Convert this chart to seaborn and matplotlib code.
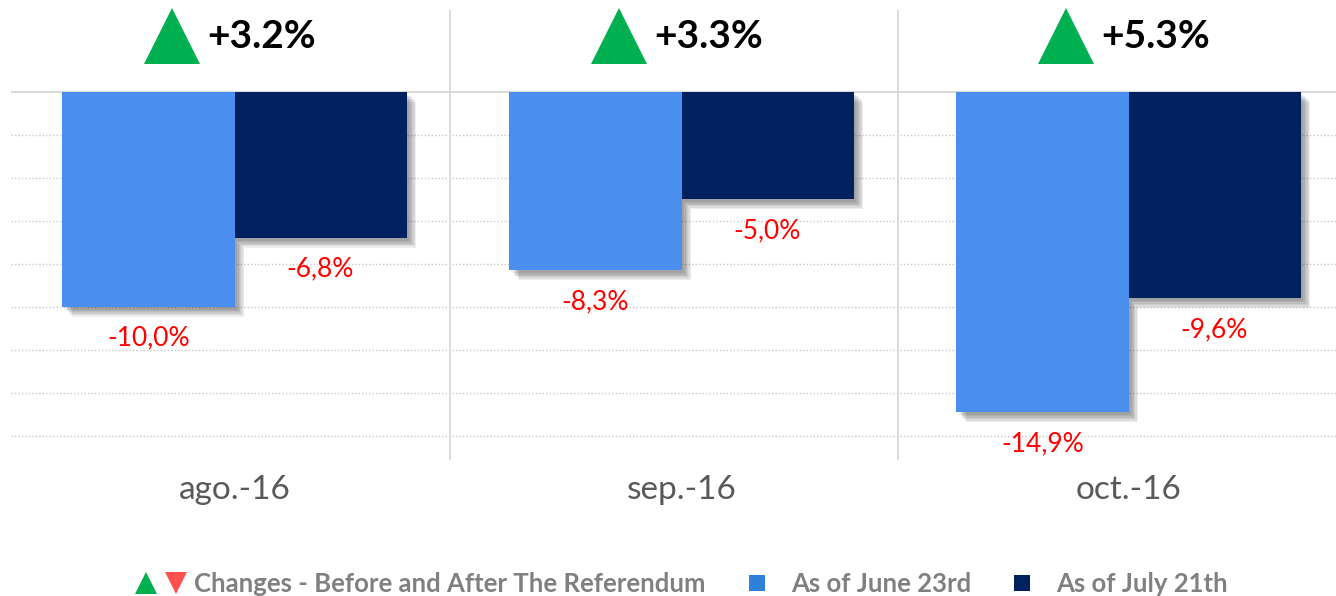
import seaborn as sns
import matplotlib.pyplot as plt
import matplotlib.patheffects as pe
from matplotlib.lines import Line2D
from matplotlib.legend_handler import HandlerTuple
import pandas as pd

months = ["ago.-16", "sep.-16", "oct.-16"]
june_23 = [-10.0, -8.3, -14.9]
july_21 = [-6.8, -5.0, -9.6]
changes = [3.2, 3.3, 5.3]
series_names = ["As of June 23rd", "As of July 21th"]

df = pd.DataFrame({
    "month": months * 2,
    "value": june_23 + july_21,
    "series": [series_names[0]] * 3 + [series_names[1]] * 3,
})

sns.set_style("white")
plt.rcParams["font.family"] = ["Lato", "DejaVu Sans"]

fig = plt.figure(figsize=(13.36, 5.96), dpi=100)
ax = fig.add_axes([11 / 1336, 136 / 596, 1325 / 1336, 450 / 596])

blue = "#4A8EEF"
navy = "#00205F"
sns.barplot(data=df, x="month", y="value", hue="series",
            palette=[blue, navy], width=0.77, saturation=1,
            linewidth=0, legend=False, ax=ax, zorder=3)

# soft shadow under bars (a few stacked offsets to fake a blur)
shadow = [pe.SimplePatchShadow(offset=(o, -o), shadow_rgbFace="black", alpha=0.07)
          for o in (2, 3, 4, 5, 6, 7)]
for cont in ax.containers:
    for bar in cont:
        bar.set_path_effects(shadow + [pe.Normal()])

# value labels under the bars
for cont in ax.containers:
    for bar in cont:
        v = bar.get_height()
        ax.text(bar.get_x() + bar.get_width() / 2, v - 1.45,
                f"{v:.1f}%".replace(".", ","), ha="center", va="center",
                color="#FF0000", fontsize=19, zorder=4)

# change markers on top
for i, c in enumerate(changes):
    ax.plot(i - 0.14, 2.62, marker="^", ms=40, color="#00B050",
            markeredgewidth=0, clip_on=False, zorder=4)
    ax.text(i - 0.062, 2.6, f"+{c:.1f}%", ha="left", va="center",
            fontsize=28, fontweight="bold", color="black")

ax.set_xlim(-0.5, -0.5 + 1325 / 447)
ax.set_ylim(-17.12, 3.81)

# grid
for y in range(-2, -17, -2):
    ax.axhline(y, color="#C8C8C8", lw=1, ls=(0, (1, 1.5)), zorder=1)
ax.axhline(0, color="#D9D9D9", lw=1.5, zorder=1)
for x in [0.482, 1.484]:
    ax.axvline(x, color="#D9D9D9", lw=1.3, zorder=1)

sns.despine(ax=ax, left=True, bottom=True)
ax.set_yticks([])
ax.set_xlabel("")
ax.set_ylabel("")
ax.tick_params(axis="x", length=0, pad=11, labelsize=24, labelcolor="#595959")

# legend
h_up = Line2D([], [], marker="^", ls="", color="#00B050", ms=16, markeredgewidth=0)
h_dn = Line2D([], [], marker="v", ls="", color="#FF5050", ms=16, markeredgewidth=0)
h_b = Line2D([], [], marker="s", ls="", color="#2E80D8", ms=12, markeredgewidth=0)
h_n = Line2D([], [], marker="s", ls="", color=navy, ms=12, markeredgewidth=0)
fig.legend([(h_up, h_dn), h_b, h_n],
           ["Changes - Before and After The Referendum"] + series_names,
           handler_map={tuple: HandlerTuple(ndivide=None, pad=0.4)},
           loc="center", bbox_to_anchor=(0.51, 0.02), ncol=3, frameon=False,
           prop={"size": 18.5, "weight": "bold"}, labelcolor="#808080",
           handlelength=2.0, handletextpad=0.3, columnspacing=1.0)

plt.savefig("out.png", dpi=100)
